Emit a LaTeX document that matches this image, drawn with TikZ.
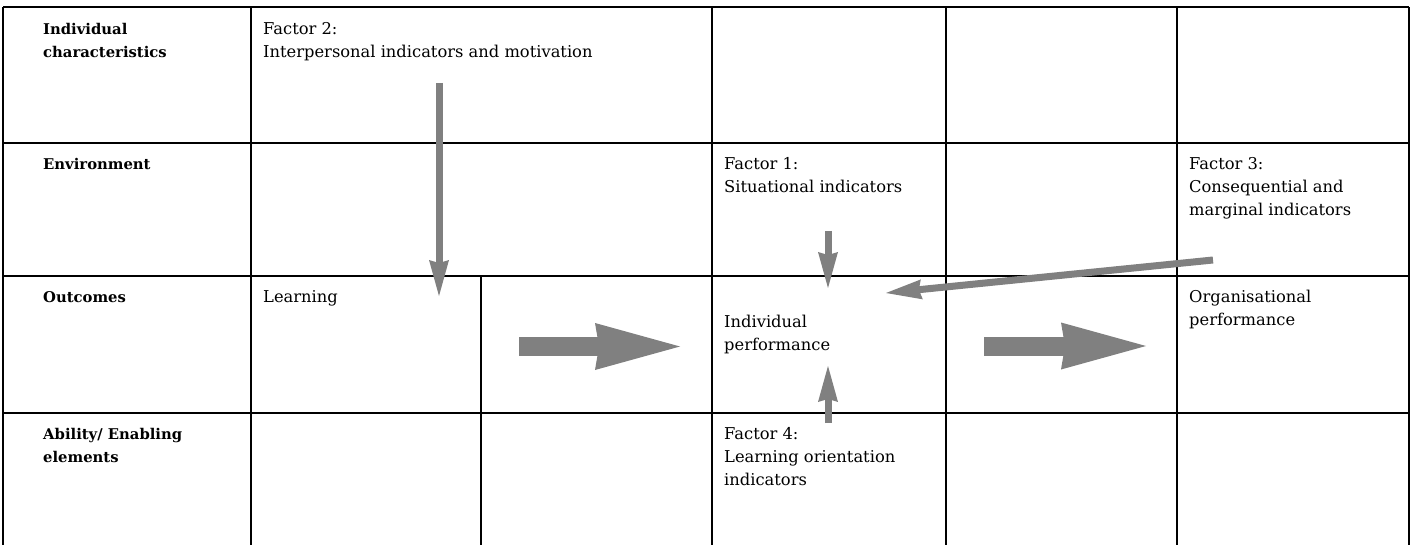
\documentclass[tikz,border=0pt]{standalone}
\usepackage{fontspec}
\setmainfont{DejaVu Serif}
\usetikzlibrary{arrows.meta}
\definecolor{arrowgray}{RGB}{128,128,128}

\begin{document}
\begin{tikzpicture}[x=1pt, y=-1pt,
	cell/.style={anchor=north west, inner sep=0pt, align=left, font=\fontsize{16.3}{23}\selectfont},
	rowlabel/.style={cell, font=\fontsize{14.8}{23}\selectfont\bfseries},
	thinarrow/.style={draw=arrowgray, line width=7pt, -{Stealth[length=36pt, width=20pt, inset=3pt, line width=0pt]}},
	fatarrow/.style={draw=arrowgray, line width=19pt, -{Stealth[length=85pt, width=47pt, inset=4pt, line width=0pt]}}]
	
	\useasboundingbox (0,0) rectangle (1413,545);
	
	% --- KHUNG BANG ---
	\draw[line width=1.3pt] (3,7) -- (1409,7);
	\draw[line width=1.3pt] (3,143) -- (1409,143);
	\draw[line width=1.3pt] (3,276) -- (1409,276);
	\draw[line width=1.3pt] (3,413) -- (1409,413);
	\draw[line width=1.3pt] (3,7) -- (3,545);
	\draw[line width=1.3pt] (251,7) -- (251,545);
	\draw[line width=1.3pt] (481,276) -- (481,545);
	\draw[line width=1.3pt] (712,7) -- (712,545);
	\draw[line width=1.3pt] (946,7) -- (946,545);
	\draw[line width=1.3pt] (1177,7) -- (1177,545);
	\draw[line width=1.3pt] (1409,7) -- (1409,545);
	
	% --- Cot tieu de ---
	\node[rowlabel] (indchar) at (43,23) {Individual\\characteristics};
	\node[rowlabel] (environ) at (43,158) {Environment};
	\node[rowlabel] (outcome) at (43,291) {Outcomes};
	\node[rowlabel] (ability) at (43,428) {Ability/ Enabling\\elements};
	
	% --- Cac o noi dung ---
	\node[cell] (factor2) at (263,22) {Factor 2:\\Interpersonal indicators and motivation};
	\node[cell] (factor1) at (724,157) {Factor 1:\\Situational indicators};
	\node[cell] (factor3) at (1189,157) {Factor 3:\\Consequential and\\marginal indicators};
	\node[cell] (learning) at (263,290) {Learning};
	\node[cell] (indperf) at (724,315) {Individual\\performance};
	\node[cell] (orgperf) at (1189,290) {Organisational\\performance};
	\node[cell] (factor4) at (724,427) {Factor 4:\\Learning orientation\\indicators};
	
	% --- Diem dau mui ten ---
	\coordinate (f2a) at (439,83);
	\coordinate (f2b) at (439,296);
	\coordinate (f1a) at (828,231);
	\coordinate (f1b) at (828,288);
	\coordinate (f4a) at (828,423);
	\coordinate (f4b) at (828,366);
	\coordinate (f3a) at (1213,260);
	\coordinate (f3b) at (886,293);
	\coordinate (lra) at (519,346.5);
	\coordinate (lrb) at (680,346.5);
	\coordinate (ipa) at (984,346);
	\coordinate (ipb) at (1146,346);
	
	% --- Mui ten ---
	\draw[thinarrow] (f2a) -- (f2b);
	\draw[thinarrow] (f1a) -- (f1b);
	\draw[thinarrow] (f4a) -- (f4b);
	\draw[thinarrow] (f3a) -- (f3b);
	\draw[fatarrow] (lra) -- (lrb);
	\draw[fatarrow] (ipa) -- (ipb);
\end{tikzpicture}
\end{document}
